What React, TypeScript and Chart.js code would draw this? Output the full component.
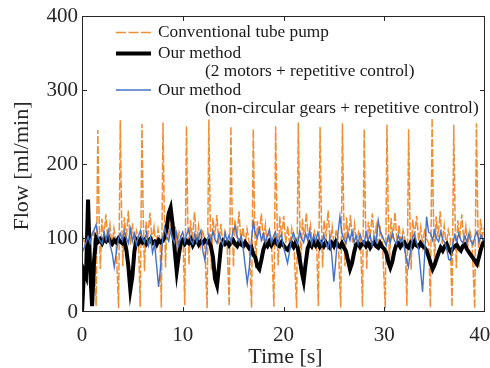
import React, { useEffect, useRef } from 'react';
import { Chart, registerables } from 'chart.js';

Chart.register(...registerables);

// ---------------- data ----------------
const xTickValues = [0, 10, 20, 30, 40];
const yTickValues = [0, 100, 200, 300, 400];
const xTitle = 'Time [s]';
const yTitle = 'Flow [ml/min]';
const legendLabels = [
  ['Conventional tube pump'],
  ['Our method', '(2 motors + repetitive control)'],
  ['Our method', '(non-circular gears + repetitive control)'],
];

// Conventional tube pump: [time s, flow ml/min]
const conventionalPump: [number, number][] = [
  [0, 105], [0.3, 92], [0.6, 112], [0.9, 98], [1.15, 108],
  [1.40, 8], [1.57, 246], [1.69, 134], [1.82, 58], [1.97, 126], [2.17, 101], [2.37, 132], [2.57, 94], [2.77, 118], [2.97, 88], [3.17, 113], [3.37, 96],
  [3.63, 5], [3.80, 259], [3.92, 138], [4.05, 62], [4.20, 128], [4.40, 98], [4.60, 137], [4.80, 91], [5.00, 120], [5.20, 86], [5.40, 110], [5.60, 100],
  [5.78, 7], [5.95, 254], [6.07, 133], [6.20, 55], [6.35, 122], [6.55, 105], [6.75, 134], [6.95, 96], [7.15, 115], [7.35, 89], [7.55, 112], [7.75, 97],
  [7.87, 6], [8.04, 256], [8.16, 140], [8.29, 60], [8.44, 130], [8.64, 102], [8.84, 128], [9.04, 93], [9.24, 117], [9.44, 87], [9.64, 108], [9.84, 101], [10.04, 94],
  [10.20, 9], [10.37, 251], [10.49, 131], [10.62, 64], [10.77, 124], [10.97, 99], [11.17, 135], [11.37, 95], [11.57, 116], [11.77, 90], [11.97, 111], [12.17, 98],
  [12.42, 5], [12.59, 260], [12.71, 137], [12.84, 57], [12.99, 127], [13.19, 103], [13.39, 131], [13.59, 92], [13.79, 119], [13.99, 88], [14.19, 109], [14.39, 99],
  [14.61, 8], [14.78, 251], [14.90, 133], [15.03, 61], [15.18, 125], [15.38, 100], [15.58, 136], [15.78, 94], [15.98, 114], [16.18, 91], [16.38, 112], [16.58, 96],
  [16.83, 6], [17.00, 247], [17.12, 130], [17.25, 59], [17.40, 123], [17.60, 104], [17.80, 133], [18.00, 95], [18.20, 118], [18.40, 87], [18.60, 110], [18.80, 98],
  [19.05, 7], [19.22, 251], [19.34, 136], [19.47, 63], [19.62, 129], [19.82, 101], [20.02, 130], [20.22, 93], [20.42, 116], [20.62, 89], [20.82, 113], [21.02, 97],
  [21.30, 5], [21.47, 256], [21.59, 139], [21.72, 56], [21.87, 126], [22.07, 98], [22.27, 134], [22.47, 96], [22.67, 117], [22.87, 90], [23.07, 109], [23.27, 100],
  [23.46, 8], [23.63, 250], [23.75, 132], [23.88, 60], [24.03, 124], [24.23, 103], [24.43, 137], [24.63, 92], [24.83, 115], [25.03, 88], [25.23, 111], [25.43, 97],
  [25.68, 6], [25.85, 255], [25.97, 135], [26.10, 62], [26.25, 128], [26.45, 100], [26.65, 131], [26.85, 94], [27.05, 119], [27.25, 91], [27.45, 108], [27.65, 99],
  [27.84, 7], [28.01, 247], [28.13, 131], [28.26, 58], [28.41, 122], [28.61, 102], [28.81, 133], [29.01, 95], [29.21, 116], [29.41, 87], [29.61, 112], [29.81, 98],
  [30.10, 5], [30.27, 253], [30.39, 138], [30.52, 61], [30.67, 127], [30.87, 99], [31.07, 135], [31.27, 93], [31.47, 118], [31.67, 90], [31.87, 110], [32.07, 97],
  [32.25, 8], [32.42, 247], [32.54, 134], [32.67, 57], [32.82, 125], [33.02, 104], [33.22, 130], [33.42, 96], [33.62, 115], [33.82, 89], [34.02, 113], [34.22, 98], [34.42, 93],
  [34.58, 6], [34.75, 262], [34.87, 140], [35.00, 63], [35.15, 129], [35.35, 101], [35.55, 136], [35.75, 92], [35.95, 117], [36.15, 88], [36.35, 111], [36.55, 99],
  [36.73, 7], [36.90, 253], [37.02, 133], [37.15, 59], [37.30, 124], [37.50, 100], [37.70, 132], [37.90, 95], [38.10, 116], [38.30, 90], [38.50, 109], [38.70, 97],
  [38.98, 5], [39.15, 255], [39.27, 136], [39.40, 60], [39.55, 126], [39.75, 103], [40.0, 118],
];

// sampled every 0.2 s from 0 to 40 s
const sampleStep = 0.2;
const twoMotorsFlow = [
  0, 55, 48, 152, 60, 8, 70, 100, 95, 98,
  93, 99, 96, 101, 95, 92, 97, 94, 99, 95,
  93, 97, 84, 62, 30, 48, 82, 97, 93, 98,
  94, 97, 92, 96, 99, 93, 95, 91, 97, 94,
  96, 101, 112, 133, 141, 118, 84, 55, 76, 93,
  97, 92, 96, 93, 98, 90, 95, 97, 91, 95,
  93, 97, 94, 96, 88, 74, 45, 36, 62, 90,
  96, 92, 95, 90, 94, 97, 92, 89, 95, 91,
  89, 94, 90, 86, 88, 78, 74, 62, 58, 70,
  84, 92, 89, 95, 90, 94, 97, 91, 89, 94,
  90, 86, 84, 89, 93, 88, 94, 87, 72, 55,
  42, 66, 86, 93, 89, 95, 90, 94, 88, 93,
  89, 94, 90, 87, 93, 89, 95, 90, 88, 93,
  87, 82, 70, 58, 66, 80, 91, 93, 88, 92,
  94, 89, 93, 87, 92, 94, 89, 87, 93, 88,
  85, 80, 68, 60, 68, 82, 91, 93, 88, 92,
  94, 89, 87, 93, 89, 95, 90, 88, 93, 89,
  87, 83, 75, 66, 58, 64, 72, 80, 87, 83,
  89, 92, 85, 81, 86, 89, 91, 86, 83, 89,
  91, 85, 81, 77, 73, 69, 65, 74, 85, 93,
  96,
];
const gearsFlow = [
  80, 86, 94, 102, 93, 106, 111, 118, 101, 96,
  92, 108, 97, 110, 90, 79, 61, 80, 98, 106,
  97, 109, 100, 93, 112, 96, 106, 91, 102, 110,
  99, 94, 107, 90, 101, 80, 92, 64, 34, 60,
  98, 114, 102, 96, 110, 99, 93, 107, 90, 102,
  108, 95, 105, 112, 97, 92, 106, 94, 103, 110,
  82, 70, 94, 105, 96, 109, 98, 93, 106, 97,
  91, 107, 96, 104, 94, 110, 116, 102, 95, 103,
  86, 62, 39, 60, 94, 121, 106, 100, 112, 97,
  106, 94, 103, 111, 93, 102, 108, 90, 100, 105,
  88, 77, 66, 82, 99, 107, 97, 91, 109, 99,
  94, 106, 97, 110, 92, 103, 95, 107, 98, 91,
  104, 94, 86, 100, 75, 41, 72, 106, 129, 106,
  98, 93, 106, 97, 109, 94, 103, 92, 105, 96,
  92, 108, 97, 104, 90, 102, 95, 124, 108, 103,
  96, 90, 103, 94, 106, 97, 92, 104, 95, 102,
  86, 71, 61, 82, 100, 106, 94, 86, 57, 27,
  74, 129, 108, 106, 97, 110, 99, 95, 108, 98,
  94, 86, 71, 70, 92, 104, 95, 106, 97, 93,
  103, 94, 106, 96, 91, 102, 108, 95, 104, 97,
  101,
];

// ---------------- styles ----------------
const ORANGE = '#EE8E35';
const BLACK = '#000000';
const BLUE = '#4472C8';
const AXIS = '#262626';
const FONT = '"Liberation Serif", "Times New Roman", serif';

const toPoints = (vals: number[]) => vals.map((v, i) => ({ x: +(i * sampleStep).toFixed(2), y: v }));

const decorPlugin = {
  id: 'decor',
  afterDraw(chart: any) {
    const { ctx, chartArea: a, scales } = chart;
    const xs = scales.x;
    const ys = scales.y;
    ctx.save();
    // box
    ctx.strokeStyle = AXIS;
    ctx.lineWidth = 1;
    ctx.strokeRect(Math.round(a.left) + 0.5, Math.round(a.top) + 0.5, Math.round(a.right - a.left) - 1, Math.round(a.bottom - a.top) - 1);
    // inward ticks
    const tl = 5;
    ctx.beginPath();
    xTickValues.slice(1, -1).forEach((v) => {
      const px = Math.round(xs.getPixelForValue(v)) + 0.5;
      ctx.moveTo(px, a.bottom);
      ctx.lineTo(px, a.bottom - tl);
      ctx.moveTo(px, a.top);
      ctx.lineTo(px, a.top + tl);
    });
    yTickValues.slice(1, -1).forEach((v) => {
      const py = Math.round(ys.getPixelForValue(v)) + 0.5;
      ctx.moveTo(a.left, py);
      ctx.lineTo(a.left + tl, py);
      ctx.moveTo(a.right, py);
      ctx.lineTo(a.right - tl, py);
    });
    ctx.stroke();

    // axis titles
    ctx.fillStyle = AXIS;
    ctx.font = `22px ${FONT}`;
    ctx.textAlign = 'center';
    ctx.textBaseline = 'alphabetic';
    ctx.fillText(xTitle, (a.left + a.right) / 2 + 2, 363);
    ctx.save();
    ctx.translate(28, (a.top + a.bottom) / 2 + 2);
    ctx.rotate(-Math.PI / 2);
    ctx.fillText(yTitle, 0, 0);
    ctx.restore();

    // legend
    const colors = [ORANGE, BLACK, BLUE];
    const widths = [1.5, 4, 1.5];
    const dashes = [[10, 2.5], [], []];
    const rowY = [32.5, 53.5, 90];
    ctx.font = `17.3px ${FONT}`;
    ctx.textAlign = 'left';
    ctx.textBaseline = 'middle';
    legendLabels.forEach((lines, i) => {
      ctx.save();
      ctx.strokeStyle = colors[i];
      ctx.lineWidth = widths[i];
      ctx.setLineDash(dashes[i]);
      ctx.beginPath();
      ctx.moveTo(116, rowY[i]);
      ctx.lineTo(151, rowY[i]);
      ctx.stroke();
      ctx.restore();
      ctx.fillStyle = '#1a1a1a';
      ctx.fillText(lines[0], 158, rowY[i]);
      if (lines[1]) ctx.fillText(lines[1], 205, rowY[i] + 18);
    });
    ctx.restore();
  },
};

export default function App() {
  const ref = useRef<HTMLCanvasElement | null>(null);
  useEffect(() => {
    document.body.style.margin = '0';
    const canvas = ref.current;
    if (!canvas) return;
    const chart = new Chart(canvas, {
      type: 'line',
      data: {
        datasets: [
          {
            label: legendLabels[0][0],
            data: conventionalPump.map(([x, y]) => ({ x, y })),
            borderColor: ORANGE,
            borderWidth: 1.5,
            borderDash: [8, 2],
            pointRadius: 0,
            tension: 0,
            order: 3,
          },
          {
            label: legendLabels[1][0],
            data: toPoints(twoMotorsFlow),
            borderColor: BLACK,
            borderWidth: 4,
            pointRadius: 0,
            tension: 0,
            order: 2,
          },
          {
            label: legendLabels[2][0],
            data: toPoints(gearsFlow),
            borderColor: BLUE,
            borderWidth: 1.4,
            pointRadius: 0,
            tension: 0,
            order: 1,
          },
        ],
      },
      options: {
        animation: false,
        responsive: false,
        layout: { padding: { top: 16, right: 5, left: 0, bottom: 0 } },
        plugins: { legend: { display: false }, tooltip: { enabled: false } },
        scales: {
          x: {
            type: 'linear',
            min: 0,
            max: 40,
            grid: { display: false, drawTicks: false },
            border: { display: false },
            ticks: {
              stepSize: 10,
              padding: 11,
              color: AXIS,
              font: { family: FONT, size: 21 },
              maxRotation: 0,
              callback: (v: any) => (v === 40 ? '40\u2002' : String(v)),
            },
            afterFit: (s: any) => {
              s.height = 56;
              s.paddingLeft = 0;
              s.paddingRight = 0;
            },
          },
          y: {
            type: 'linear',
            min: 0,
            max: 400,
            grid: { display: false, drawTicks: false },
            border: { display: false },
            ticks: {
              stepSize: 100,
              padding: 4,
              color: AXIS,
              font: { family: FONT, size: 21 },
            },
            afterFit: (s: any) => {
              s.width = 82;
              s.paddingTop = 0;
              s.paddingBottom = 0;
            },
          },
        },
      },
      plugins: [decorPlugin],
    });
    return () => chart.destroy();
  }, []);
  return <canvas ref={ref} width={490} height={368} style={{ display: 'block' }} />;
}
